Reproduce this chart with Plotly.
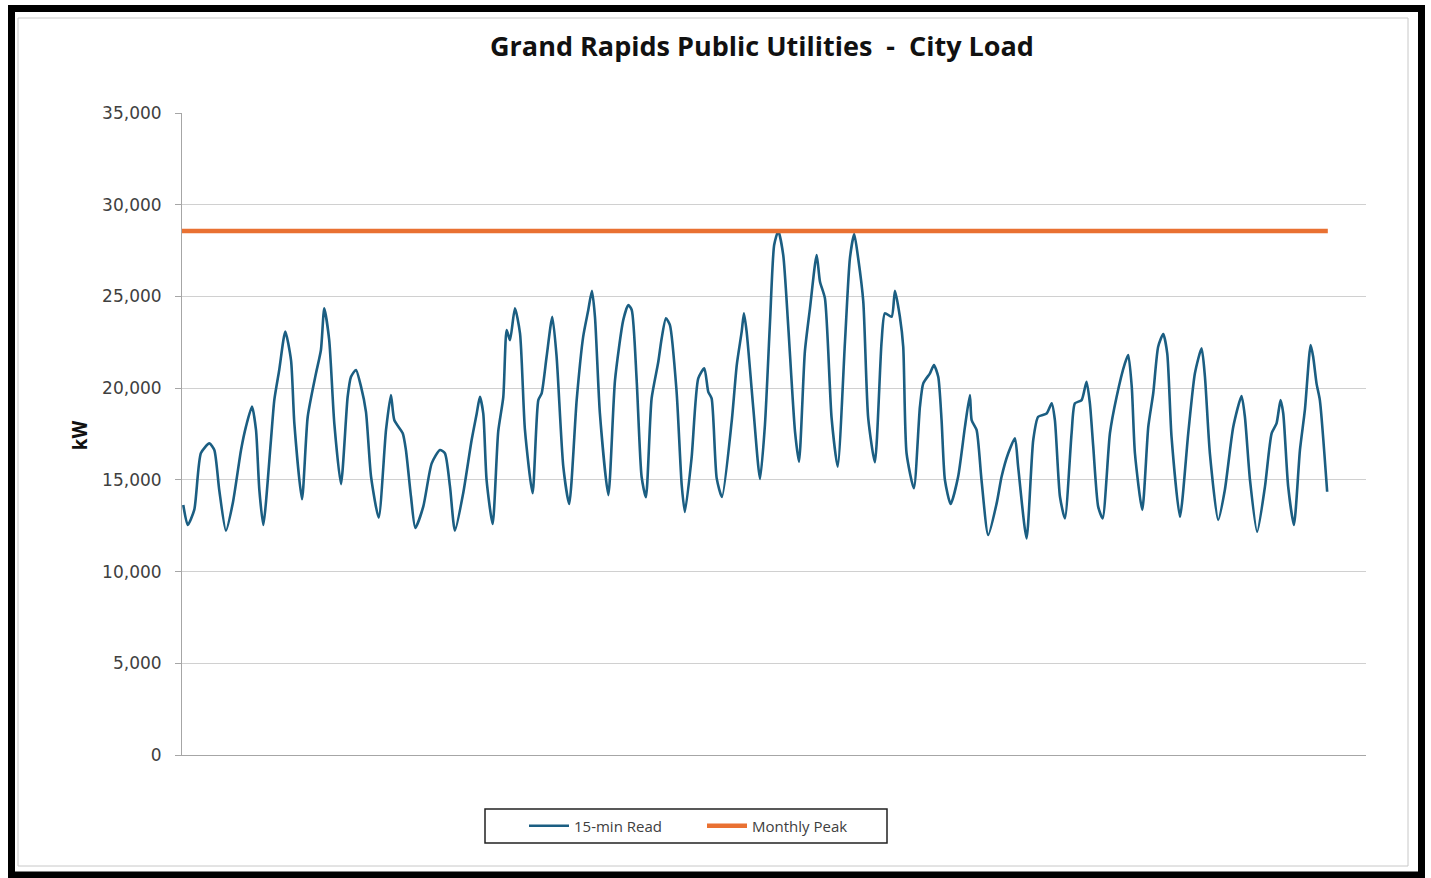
import plotly.graph_objects as go

# ---- data ----
# hours since start of month, and 15-min load (kW)
read_hours = [
    0.8, 3.6, 7.7, 11.9, 17.2, 20.3, 23.4, 27.6, 31.9, 37.1, 40.2, 44.0, 46.5, 48.6,
    51.1, 55.9, 58.0, 61.1, 64.9, 68.5, 70.6, 75.4, 79.0, 84.2, 87.3, 89.4, 92.5, 95.7,
    99.9, 104.1, 106.2, 109.3, 112.5, 115.6, 118.8, 123.6, 128.2, 131.3, 133.4, 138.7,
    140.7, 143.9, 146.6, 151.6, 156.9, 162.1, 165.2, 168.4, 171.5, 176.7, 182.0, 185.2,
    187.2, 189.3, 191.4, 195.2, 198.7, 201.9, 204.0, 206.1, 209.2, 212.4, 215.5, 220.3,
    223.9, 226.0, 229.1, 232.7, 235.4, 239.6, 243.3, 248.0, 252.1, 255.3, 257.6, 259.5,
    262.6, 267.9, 272.1, 277.3, 280.4, 282.6, 285.7, 288.8, 291.5, 295.1, 299.3, 301.4,
    304.1, 306.6, 310.8, 314.0, 316.0, 320.2, 324.4, 328.2, 330.7, 332.8, 336.0, 339.3,
    345.4, 348.6, 351.7, 353.1, 354.8, 359.0, 363.2, 366.3, 369.5, 372.1, 374.7, 377.8,
    380.9, 385.2, 387.7, 391.4, 394.6, 398.8, 400.9, 404.0, 408.2, 412.0, 416.6, 419.7,
    422.4, 424.9, 428.1, 431.2, 435.4, 439.6, 441.7, 445.9, 448.0, 451.1, 453.2, 455.3,
    459.9, 463.7, 465.8, 470.0, 472.5, 475.2, 477.3, 479.4, 483.0, 487.7, 492.0, 495.1,
    496.2, 499.3, 502.4, 506.6, 511.9, 515.0, 519.2, 523.4, 525.4, 530.7, 534.9, 538.0,
    543.3, 546.5, 548.5, 551.7, 554.8, 559.0, 561.1, 565.3, 568.4, 570.5, 572.6, 575.7,
    578.5, 583.1, 587.3, 592.5, 594.6, 596.8, 598.8, 603.4, 607.2, 610.3, 613.4, 616.6,
    619.1, 621.8, 627.1, 632.3, 636.5, 640.7, 642.8, 645.9, 651.1, 655.3, 660.6, 665.8,
    667.9, 671.1, 675.6, 680.5, 684.7, 687.8, 690.3, 692.0, 695.1, 698.7, 702.5, 705.6,
    709.2, 710.8, 712.9, 715.0, 719.6,
]
read_kw = [
    13630, 12540, 13360, 16460, 16990, 16630, 14450, 12230, 13720, 16630, 17900, 18990, 17720, 14450,
    12540, 17170, 19350, 20990, 23080, 21530, 18080, 13940, 18440, 20810, 22080, 24350, 22620, 18080,
    14770, 19530, 20620, 20990, 20080, 18710, 15170, 12940, 17720, 19630, 18260, 17540,
    16630, 14080, 12380, 13540, 15900, 16630, 16450, 14630, 12230, 14270, 17170, 18620,
    19530, 18620, 14990, 12590, 17630, 19530, 23170, 22620, 24350, 22990, 17720, 14270,
    19350, 19720, 21710, 23890, 21710, 15720, 13680, 19350, 22810, 24260, 25310, 23890,
    18620, 14170, 20440, 23720, 24530, 24260, 20440, 15170, 14050, 19440, 21440, 22710,
    23810, 23440, 19800, 14720, 13250, 16180, 20530, 21080, 19800, 19440, 15080, 14070,
    18170, 21260, 23080, 24080, 23080, 18900, 15050, 17990, 23620, 27800, 28570, 27260,
    23440, 17630, 15990, 21990, 24350, 27260, 25800, 24900, 18360, 15720, 22530, 27080,
    28400, 27080, 24720, 18360, 15960, 22530, 24080, 23890, 25310, 23890, 22260, 16450,
    14540, 18990, 20260, 20810, 21260, 20620, 18260, 14990, 13680, 15170, 17900, 19630,
    18260, 17720, 14990, 11990, 13720, 15170, 16450, 17270, 15720, 11810, 17170, 18440,
    18620, 19170, 18260, 14080, 12900, 17540, 19170, 19350, 20350, 19170, 16820, 13540,
    12900, 17540, 19530, 21350, 21810, 20080, 16450, 13360, 17900, 19720, 22260, 22950,
    21900, 17350, 12990, 17540, 20810, 22170, 20620, 16450, 12810, 14450, 17900, 19570,
    18440, 14990, 12170, 14630, 17540, 18080, 19350, 18620, 14630, 12540, 16630, 18810,
    22350, 21710, 20260, 19350, 14350,
]
monthly_peak_kw = 28570
peak_hours = [0.0, 720.0]

y_ticks = [0, 5000, 10000, 15000, 20000, 25000, 30000, 35000]
y_tick_labels = ["0", "5,000", "10,000", "15,000", "20,000", "25,000", "30,000", "35,000"]

title_text = "Grand Rapids Public Utilities\u00a0\u00a0-\u00a0\u00a0City Load"
y_title = "kW"
series_names = ["15-min Read", "Monthly Peak"]

# ---- layout geometry (pixels of the 1431x878 canvas) ----
W, H = 1431, 878
PL, PR, PT, PB = 182, 1366, 113, 755


def px_x(px):
    return (px - PL) / (PR - PL)


def px_y(py):
    return (PB - py) / (PB - PT)


BLUE = "#1b5e82"
ORANGE = "#e97132"

fig = go.Figure()
fig.add_trace(go.Scatter(
    x=read_hours, y=read_kw, mode="lines", name=series_names[0],
    line=dict(color=BLUE, width=2.6, shape="spline", smoothing=0.6), hoverinfo="skip",
))
fig.add_trace(go.Scatter(
    x=peak_hours, y=[monthly_peak_kw] * len(peak_hours), mode="lines",
    name=series_names[1], line=dict(color=ORANGE, width=4.5), hoverinfo="skip",
))

shapes = [
    # outer black frame
    dict(type="rect", xref="paper", yref="paper",
         x0=px_x(11.5), x1=px_x(1421.5), y0=px_y(875), y1=px_y(8.5),
         line=dict(color="black", width=7), fillcolor="rgba(0,0,0,0)", layer="above"),
    # inner gray chart border
    dict(type="rect", xref="paper", yref="paper",
         x0=px_x(18), x1=px_x(1408), y0=px_y(866), y1=px_y(18),
         line=dict(color="#c8c8c8", width=1), fillcolor="rgba(0,0,0,0)", layer="above"),
    # legend box
    dict(type="rect", xref="paper", yref="paper",
         x0=px_x(485), x1=px_x(887), y0=px_y(843), y1=px_y(809),
         line=dict(color="#222222", width=1.5), fillcolor="rgba(0,0,0,0)", layer="above"),
]

fig.update_layout(
    width=W, height=H,
    margin=dict(l=PL, r=W - PR, t=PT, b=H - PB),
    paper_bgcolor="white", plot_bgcolor="white",
    title=dict(text=f"<b>{title_text}</b>", x=762 / W, xref="container",
               y=1 - 47 / H, yref="container", xanchor="center", yanchor="middle",
               font=dict(family="Open Sans", size=27, color="#111111")),
    xaxis=dict(range=[0, 744], showgrid=False, zeroline=False, showticklabels=False,
               showline=True, linecolor="#a6a6a6", linewidth=1, ticks=""),
    yaxis=dict(range=[0, 35000], tickvals=y_ticks, ticktext=y_tick_labels,
               showgrid=True, gridcolor="#d0d0d0", gridwidth=1, zeroline=False,
               showline=True, linecolor="#a6a6a6", linewidth=1,
               ticks="outside", ticklen=6, tickcolor="#a6a6a6",
               ticklabelstandoff=10,
               tickfont=dict(family="DejaVu Sans", size=17, color="#404040")),
    showlegend=True,
    legend=dict(orientation="h", x=px_x(702), xanchor="center",
                y=px_y(826), yanchor="middle",
                bgcolor="rgba(0,0,0,0)", borderwidth=0,
                itemwidth=40, entrywidth=123, itemclick=False,
                font=dict(family="Open Sans", size=15, color="#404040")),
    shapes=shapes,
    annotations=[dict(text=f"<b>{y_title}</b>", xref="paper", yref="paper",
                      x=px_x(80), y=px_y(435), textangle=-90, showarrow=False,
                      xanchor="center", yanchor="middle",
                      font=dict(family="Roboto", size=21, color="#111111"))],
)

fig.write_html("out.html", config={"displayModeBar": False},
               post_script="document.body.style.margin='0';")
